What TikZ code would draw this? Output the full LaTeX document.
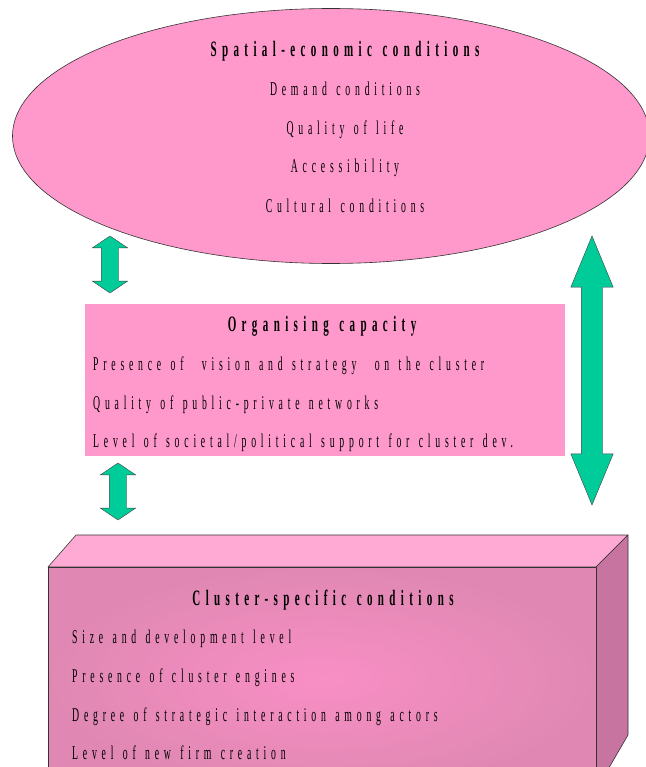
\documentclass[tikz,border=0pt]{standalone}
\usepackage{fontspec}
\setmainfont{Liberation Serif}[FakeStretch=0.5, LetterSpace=24.5, WordSpace=1.3]
\usetikzlibrary{shapes.geometric, shapes.arrows, positioning}
\definecolor{pinkfill}{HTML}{FF99CC}
\definecolor{boxtop}{HTML}{FFAAD5}
\definecolor{boxfront}{HTML}{E088B3}
\definecolor{boxcentre}{HTML}{F98FC5}
\definecolor{boxside}{HTML}{C874A0}
\definecolor{arrowgreen}{HTML}{00CC99}

\begin{document}
\begin{tikzpicture}[
  x=1pt, y=-1pt,
  ttl/.style={font=\fontsize{22}{24}\selectfont\bfseries, anchor=base},
  itm/.style={font=\fontsize{19.5}{22}\selectfont, anchor=base west, inner sep=0pt},
  itc/.style={font=\fontsize{19.5}{22}\selectfont, anchor=base, inner sep=0pt},
  dblarr/.style={double arrow, rotate=90, draw=black!75, fill=arrowgreen,
                 inner xsep=0pt, double arrow head indent=0pt},
  face/.style={draw=black!80, line width=0.6pt, line join=round}
]
\useasboundingbox (0,0) rectangle (645,767);

%% ── Spatial-economic conditions (ellipse) ───────────────────────────────
\node[ellipse, draw=black!80, fill=pinkfill, line width=0.6pt,
      minimum width=637, minimum height=255] (spatial) at (331,136) {};
\node[ttl] (spttl) at (345,57) {Spatial-economic conditions};
\node[itc] (demand)  at (345,96)  {Demand conditions};
\node[itc] (quality) at (345,135) {Quality of life};
\node[itc] (access)  at (345,173) {Accessibility};
\node[itc] (culture) at (345,212) {Cultural conditions};

%% ── Organising capacity (rectangle) ─────────────────────────────────────
\node[rectangle, fill=pinkfill, minimum width=480, minimum height=152,
      inner sep=0pt] (organ) at (325,380) {};
\node[ttl] (orttl) at (322,331) {Organising capacity};
\node[itm] (vision)  at (93,370) {Presence of\hspace{9pt} vision and strategy\hspace{9pt} on the cluster};
\node[itm] (network) at (93,409) {Quality of public-private networks};
\node[itm] (support) at (93,447) {Level of societal/political support for cluster dev.};

%% ── Cluster-specific conditions (3D box) ────────────────────────────────
\coordinate (fa) at (48,567);
\coordinate (fb) at (596,567);
\coordinate (fc) at (596,790);
\coordinate (fd) at (48,790);
\coordinate (ta) at (76,535);
\coordinate (tb) at (628,535);
\coordinate (tc) at (628,735);
\fill[boxtop] (fa) -- (ta) -- (tb) -- (fb) -- cycle;
\draw[face] (fa) -- (ta) -- (tb) -- (fb) -- cycle;
\fill[boxside] (fb) -- (tb) -- (tc) -- (fc) -- cycle;
\draw[face] (fb) -- (tb) -- (tc) -- (fc);
\shade[inner color=boxcentre, outer color=boxfront] (fa) rectangle (fc);
\draw[face] (fd) -- (fa) -- (fb) -- (fc);

\node[ttl] (clttl) at (323,605) {Cluster-specific conditions};
\node[itm] (size)    at (72,643) {Size and development level};
\node[itm] (engines) at (72,682) {Presence of cluster engines};
\node[itm] (interac) at (72,721) {Degree of strategic interaction among actors};
\node[itm] (newfirm) at (72,759) {Level of new firm creation};

%% ── Block arrows ────────────────────────────────────────────────────────
\node[dblarr, minimum height=57, minimum width=35, inner ysep=8.5pt,
      double arrow head extend=9pt, double arrow tip angle=112] (arrup) at (110,264.5) {};
\node[dblarr, minimum height=57, minimum width=35, inner ysep=8.5pt,
      double arrow head extend=9pt, double arrow tip angle=112] (arrlow) at (118,491.5) {};
\node[dblarr, minimum height=269, minimum width=42, inner ysep=10.5pt,
      double arrow head extend=10.5pt, double arrow tip angle=45] (arrbig) at (592,370.5) {};

\end{tikzpicture}
\end{document}
